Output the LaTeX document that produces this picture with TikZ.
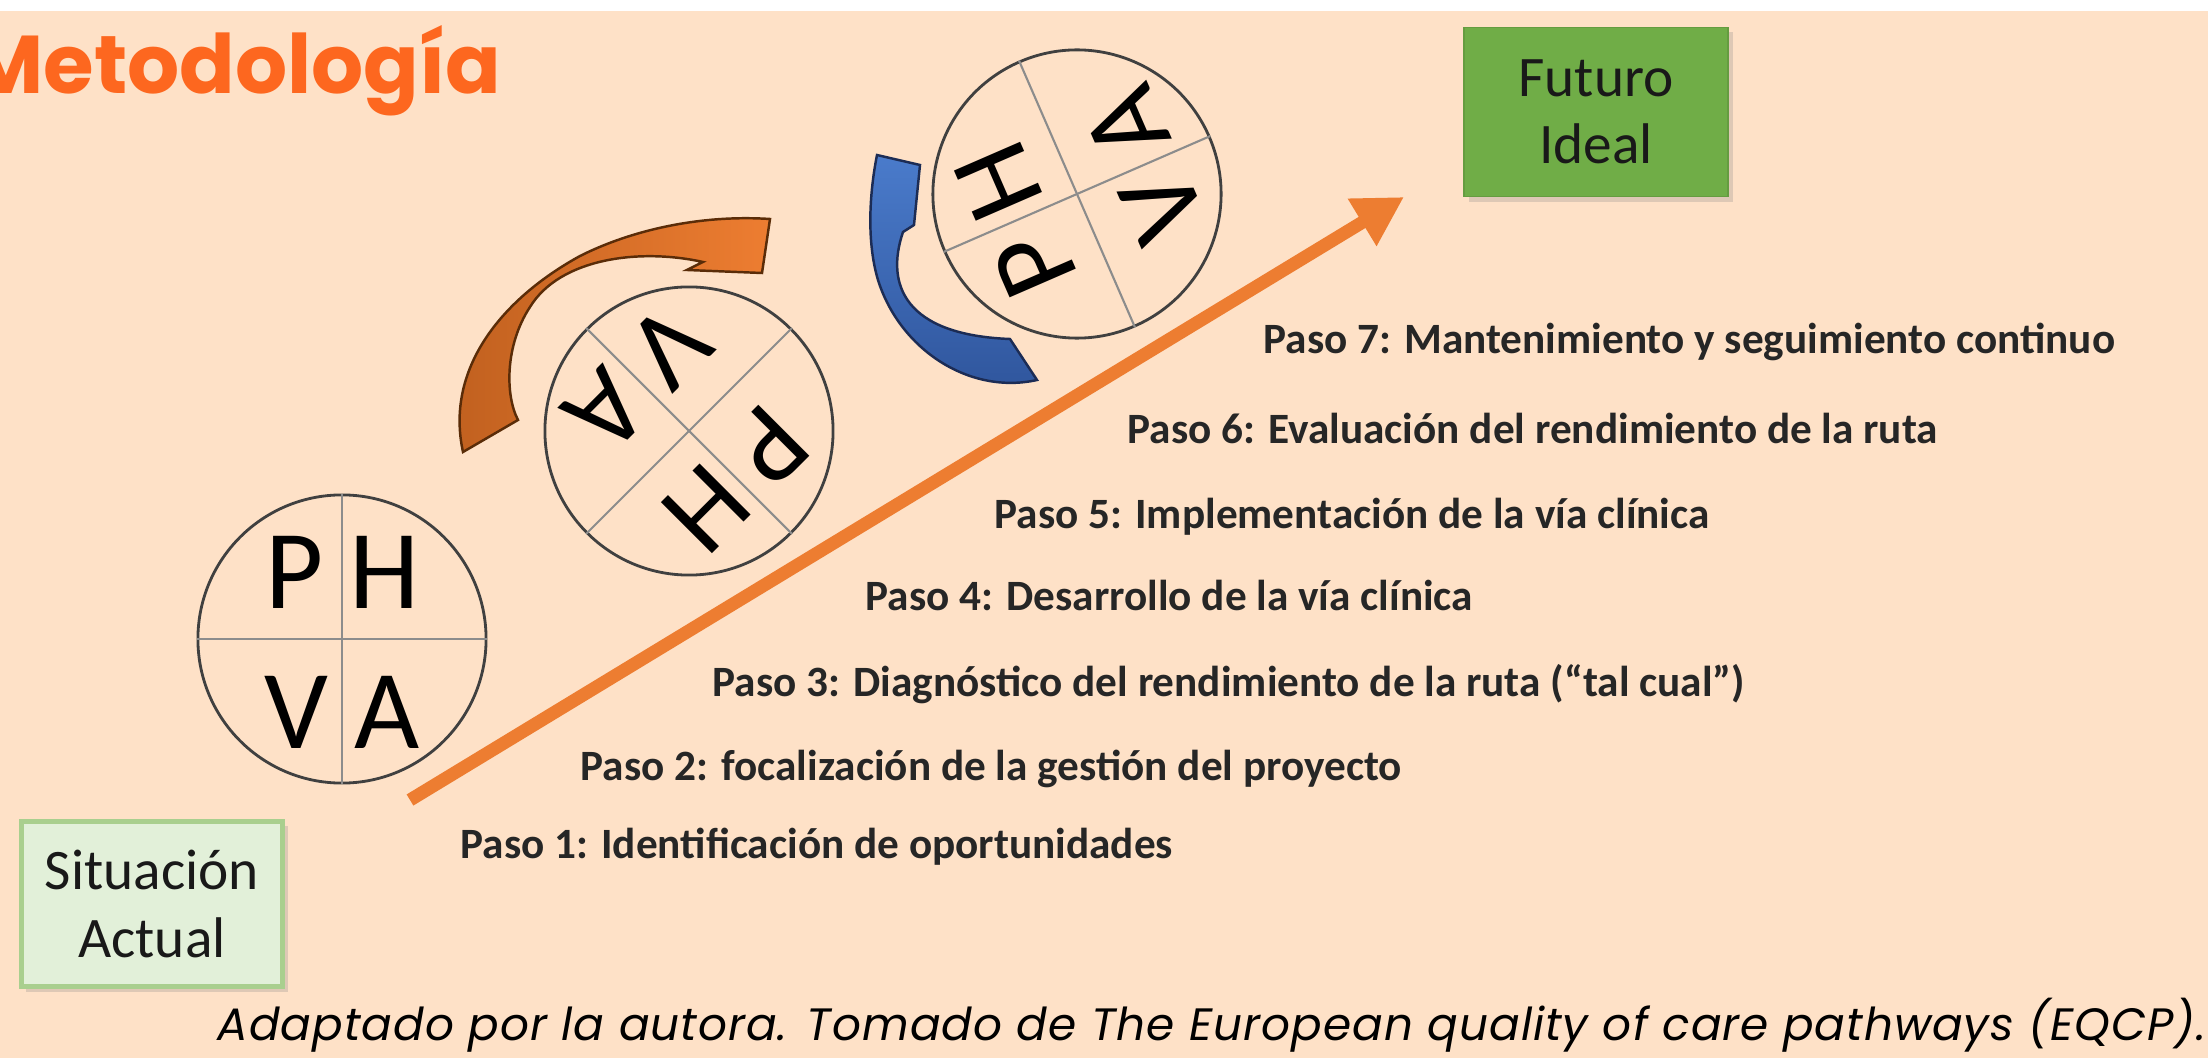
\documentclass[tikz,border=0pt]{standalone}
\usepackage{fontspec}
\setmainfont{Carlito}
\newfontfamily\popfont{Poppins}
\newfontfamily\capfont{Poppins}[LetterSpace=2.2]
\usetikzlibrary{arrows.meta}
\usetikzlibrary{shadows}
\usetikzlibrary{positioning}

\definecolor{fondo}{HTML}{FEE1C7}
\definecolor{titulo}{HTML}{FD671F}
\definecolor{flecha}{HTML}{ED7D31}
\definecolor{cafe}{HTML}{C0601F}
\definecolor{cafeborde}{HTML}{5A2C08}
\definecolor{azulclaro}{HTML}{4A7BCB}
\definecolor{azuloscuro}{HTML}{2F559C}
\definecolor{azulborde}{HTML}{1C2C55}
\definecolor{verde}{HTML}{70AD47}
\definecolor{verdeclaro}{HTML}{E2F0D9}
\definecolor{bordeverde}{HTML}{A9CF8E}
\definecolor{trazo}{HTML}{404040}
\definecolor{cruz}{HTML}{8C8C8C}

\tikzset{
  caja/.style={align=center, inner sep=0pt, text=black!90,
    font=\fontsize{16.3}{19.1}\selectfont,
    drop shadow={opacity=0.25, shadow xshift=0.05cm, shadow yshift=-0.05cm}},
  rueda/.style={circle, draw=trazo, line width=0.8pt, minimum size=2.88cm, inner sep=0pt},
  letra/.style={inner sep=0pt, font=\fontsize{32}{32}\selectfont},
  paso/.style={anchor=base west, inner sep=0pt, text=black!85,
    font=\fontsize{12.3}{14}\selectfont\bfseries},
}

\begin{document}
\begin{tikzpicture}[x=0.01cm, y=-0.01cm]

  \useasboundingbox (0,0) rectangle (2208,1058);
  \fill[white] (0,0) rectangle (2208,1058);
  \fill[fondo] (0,11) rectangle (2208,1058);

  \node[anchor=base east, inner sep=0pt, text=titulo,
    font=\popfont\bfseries\fontsize{23.3}{28}\selectfont] (titulo) at (502,94) {Metodología};

%%%%%%%%%%%% Cajas
  \node[caja, fill=verde, draw=verde!90!black, minimum width=2.64cm, minimum height=1.69cm]
    (futuro) at (1596,112) {Futuro\\Ideal};
  \node[caja, fill=verdeclaro, draw=bordeverde, line width=1.2pt, minimum width=2.61cm, minimum height=1.65cm]
    (actual) at (152,904) {Situación\\Actual};

%%%%%%%%%%%% Ruedas PHVA
  \foreach \n/\cx/\cy/\r in {1/342/639/0, 2/689/431/-135, 3/1077/194/113.5} {
    \begin{scope}[shift={(\cx,\cy)}, rotate=\r, transform shape]
      \node[rueda] (rueda\n) at (0,0) {};
      \draw[cruz, line width=0.6pt] (rueda\n.north) -- (rueda\n.south);
      \draw[cruz, line width=0.6pt] (rueda\n.west) -- (rueda\n.east);
      \node[letra] (P\n) at (-47,-67) {P};
      \node[letra] (H\n) at (43,-67) {H};
      \node[letra] (V\n) at (-46,73) {V};
      \node[letra] (A\n) at (45,73) {A};
    \end{scope}
  }

%%%%%%%%%%%% Flechas curvas
  \shadedraw[left color=cafe, right color=flecha, draw=cafeborde, line width=0.7pt]
    (463,452) .. controls (445,370) and (500,300) .. (580,256)
    .. controls (640,226) and (710,215) .. (770,219) -- (762,273) -- (687,270) -- (703,262)
    .. controls (640,248) and (560,258) .. (530,307)
    .. controls (505,345) and (505,395) .. (518,420) -- cycle;

  \shadedraw[top color=azulclaro, bottom color=azuloscuro, draw=azulborde, line width=0.7pt]
    (877,155) -- (920,165) -- (914,225) -- (903,232)
    .. controls (885,285) and (905,335) .. (1010,339) -- (1037,380)
    .. controls (970,395) and (900,350) .. (878,280)
    .. controls (866,240) and (870,190) .. (877,155) -- cycle;

%%%%%%%%%%%% Flecha principal
  \coordinate (inicio) at (410,800);
  \coordinate (punta) at (1404,197);
  \draw[flecha, line width=0.13cm, -{Triangle[length=4.9mm, width=5.2mm]}] (inicio) -- (punta);

%%%%%%%%%%%% Pasos
  \foreach \i/\x/\y/\texto in {
      1/460/858/{Paso 1: Identificación de oportunidades},
      2/580/781/{Paso 2: focalización de la gestión del proyecto},
      3/712/696/{Paso 3: Diagnóstico del rendimiento de la ruta (“tal cual”)},
      4/865/611/{Paso 4: Desarrollo de la vía clínica},
      5/994/529/{Paso 5: Implementación de la vía clínica},
      6/1127/444/{Paso 6: Evaluación del rendimiento de la ruta},
      7/1263/354/{Paso 7: Mantenimiento y seguimiento continuo}}
    \node[paso] (paso\i) at (\x,\y) {\texto};

  \node[anchor=base west, inner sep=0pt, text=black,
    font=\capfont\itshape\fontsize{12.9}{15}\selectfont] (fuente) at (217,1040)
    {Adaptado por la autora. Tomado de The European quality of care pathways (EQCP).};

\end{tikzpicture}
\end{document}
